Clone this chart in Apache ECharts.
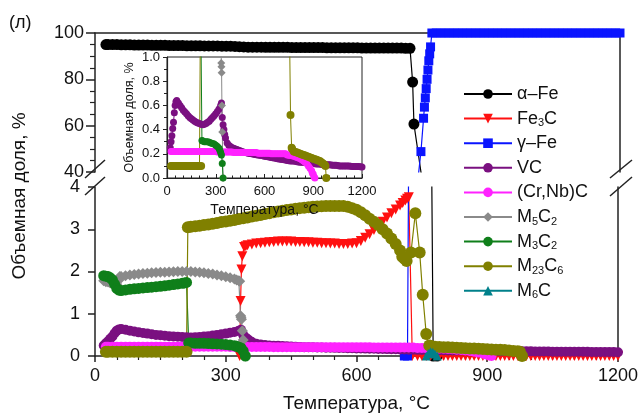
<!DOCTYPE html>
<html><head><meta charset="utf-8">
<script src="https://cdn.jsdelivr.net/npm/echarts@6.0.0/dist/echarts.min.js"></script>
<style>html,body{margin:0;padding:0;background:#fff}#c{width:641px;height:414px}</style>
</head><body><div id="c"></div><script>
// ---------- data (temperature °C, volume fraction %) ----------
const alphaFe = [[25,95.0],[30,95.0],[40,95.0],[50,95.0],[60,94.9],[70,94.9],[80,94.9],[90,94.8],[100,94.8],[110,94.8],[120,94.8],[130,94.7],[140,94.7],[150,94.7],[160,94.7],[170,94.6],[180,94.6],[190,94.6],[200,94.6],[210,94.5],[220,94.5],[230,94.5],[240,94.5],[250,94.4],[260,94.4],[270,94.4],[280,94.4],[290,94.3],[300,94.3],[310,94.3],[320,94.2],[330,94.1],[340,94.0],[350,93.9],[360,93.9],[370,93.9],[380,93.9],[390,93.8],[400,93.8],[410,93.8],[420,93.8],[430,93.8],[440,93.8],[450,93.7],[460,93.7],[470,93.7],[480,93.7],[490,93.7],[500,93.7],[510,93.7],[520,93.7],[530,93.6],[540,93.6],[550,93.6],[560,93.6],[570,93.6],[580,93.6],[590,93.6],[600,93.6],[610,93.5],[620,93.5],[630,93.5],[640,93.5],[650,93.5],[660,93.5],[670,93.5],[680,93.5],[690,93.5],[700,93.5],[710,93.4],[720,93.4],[726,78.8],[729,60.7],[776,0],[785,0]];
const fe3C = [[332,0],[334,1.3],[336,2.05],[338,2.36],[342,2.58],[346,2.6],[350,2.62],[360,2.64],[370,2.66],[380,2.67],[390,2.68],[400,2.69],[410,2.7],[420,2.71],[430,2.71],[440,2.71],[450,2.71],[460,2.7],[470,2.7],[480,2.69],[490,2.69],[500,2.68],[510,2.68],[520,2.67],[530,2.67],[540,2.66],[550,2.66],[560,2.65],[570,2.65],[580,2.65],[590,2.66],[600,2.67],[610,2.72],[620,2.8],[630,2.88],[640,2.98],[650,3.08],[660,3.18],[670,3.28],[680,3.38],[690,3.47],[700,3.56],[706,3.62],[712,3.68],[716,3.72],[720,3.76],[728,0],[740,0],[750,0],[760,0],[770,0],[780,0],[790,0],[800,0],[810,0],[820,0],[830,0],[840,0],[850,0],[860,0],[870,0],[880,0],[890,0],[900,0],[910,0],[920,0],[930,0],[940,0],[950,0],[960,0],[970,0],[980,0],[990,0],[1000,0],[1010,0],[1020,0],[1030,0],[1040,0],[1050,0],[1060,0],[1070,0],[1080,0],[1090,0],[1100,0],[1110,0],[1120,0],[1130,0],[1140,0],[1150,0],[1160,0],[1170,0],[1180,0],[1190,0],[1200,0]];
const gammaFe = [[710,0],[717,0],[745,48.8],[751,63.2],[753,68],[755,72],[757,76],[759,80],[761,84],[763,88],[765,91],[767,94],[770,100],[780,100],[790,100],[800,100],[810,100],[820,100],[830,100],[840,100],[850,100],[860,100],[870,100],[880,100],[890,100],[900,100],[910,100],[920,100],[930,100],[940,100],[950,100],[960,100],[970,100],[980,100],[990,100],[1000,100],[1010,100],[1020,100],[1030,100],[1040,100],[1050,100],[1060,100],[1070,100],[1080,100],[1090,100],[1100,100],[1110,100],[1120,100],[1130,100],[1140,100],[1150,100],[1160,100],[1170,100],[1180,100],[1190,100],[1200,100]];
const vc = [[20,0.25],[25,0.3],[30,0.35],[35,0.41],[40,0.46],[45,0.54],[50,0.6],[55,0.63],[60,0.64],[70,0.62],[80,0.6],[90,0.58],[100,0.56],[110,0.545],[120,0.53],[130,0.515],[140,0.5],[150,0.49],[160,0.48],[170,0.47],[180,0.46],[190,0.455],[200,0.45],[210,0.445],[220,0.44],[230,0.445],[240,0.45],[250,0.46],[260,0.47],[270,0.485],[280,0.5],[290,0.515],[300,0.53],[310,0.55],[320,0.57],[330,0.6],[335,0.62],[340,0.5],[345,0.44],[350,0.4],[355,0.36],[360,0.33],[370,0.29],[380,0.27],[390,0.26],[400,0.25],[410,0.245],[420,0.24],[430,0.235],[440,0.23],[450,0.225],[460,0.22],[470,0.215],[480,0.21],[490,0.208],[500,0.205],[510,0.203],[520,0.2],[530,0.198],[540,0.195],[550,0.193],[560,0.19],[570,0.188],[580,0.185],[590,0.183],[600,0.18],[610,0.178],[620,0.175],[630,0.173],[640,0.17],[650,0.168],[660,0.165],[670,0.163],[680,0.16],[690,0.158],[700,0.155],[710,0.153],[720,0.15],[730,0.148],[740,0.145],[750,0.143],[760,0.14],[770,0.14],[780,0.14],[790,0.138],[800,0.135],[810,0.133],[820,0.13],[830,0.13],[840,0.13],[850,0.128],[860,0.125],[870,0.123],[880,0.12],[890,0.12],[900,0.12],[910,0.118],[920,0.115],[930,0.115],[940,0.115],[950,0.113],[960,0.11],[970,0.11],[980,0.11],[990,0.11],[1000,0.11],[1010,0.108],[1020,0.105],[1030,0.105],[1040,0.105],[1050,0.103],[1060,0.1],[1070,0.1],[1080,0.1],[1090,0.1],[1100,0.1],[1110,0.1],[1120,0.1],[1130,0.098],[1140,0.095],[1150,0.095],[1160,0.095],[1170,0.095],[1180,0.095],[1190,0.093],[1200,0.09]];
const crNbC = [[25,0.22],[30,0.22],[40,0.22],[50,0.22],[60,0.22],[70,0.22],[80,0.22],[90,0.22],[100,0.22],[110,0.22],[120,0.22],[130,0.22],[140,0.22],[150,0.22],[160,0.22],[170,0.22],[180,0.22],[190,0.22],[200,0.22],[210,0.22],[220,0.22],[230,0.22],[240,0.22],[250,0.22],[260,0.22],[270,0.22],[280,0.22],[290,0.22],[300,0.22],[310,0.215],[320,0.215],[330,0.215],[340,0.215],[350,0.215],[360,0.215],[370,0.215],[380,0.215],[390,0.215],[400,0.215],[410,0.21],[420,0.21],[430,0.21],[440,0.21],[450,0.21],[460,0.21],[470,0.21],[480,0.21],[490,0.21],[500,0.21],[510,0.21],[520,0.21],[530,0.21],[540,0.21],[550,0.21],[560,0.205],[570,0.205],[580,0.205],[590,0.205],[600,0.205],[610,0.205],[620,0.205],[630,0.205],[640,0.2],[650,0.2],[660,0.2],[670,0.2],[680,0.2],[690,0.2],[700,0.2],[710,0.2],[720,0.2],[730,0.2],[740,0.19],[750,0.188],[760,0.185],[770,0.183],[780,0.18],[790,0.175],[800,0.17],[810,0.165],[820,0.16],[830,0.15],[840,0.14],[850,0.13],[860,0.12],[870,0.1],[880,0.08],[890,0.06],[895,0.04],[900,0.03],[905,0.01],[910,0]];
const m5C2 = [[20,1.78],[25,1.76],[30,1.75],[35,1.73],[40,1.72],[45,1.71],[50,1.7],[55,1.8],[57,1.88],[60,1.88],[70,1.9],[80,1.915],[90,1.93],[100,1.94],[110,1.95],[120,1.96],[130,1.97],[140,1.975],[150,1.98],[160,1.985],[170,1.99],[180,1.995],[190,2.0],[200,2.0],[210,2.0],[220,2.0],[230,1.99],[240,1.98],[250,1.97],[260,1.955],[270,1.94],[280,1.92],[290,1.9],[300,1.875],[310,1.85],[320,1.82],[325,1.8],[330,1.78],[332,1.77],[334,0.95],[335,0.92],[336,0.87],[338,0.6],[340,0.38],[345,0]];
const m3C2 = [[20,1.9],[25,1.89],[30,1.88],[35,1.85],[40,1.8],[45,1.7],[50,1.6],[55,1.56],[60,1.55],[70,1.565],[80,1.58],[90,1.59],[100,1.6],[110,1.61],[120,1.62],[130,1.63],[140,1.64],[150,1.65],[160,1.66],[170,1.675],[180,1.69],[190,1.705],[200,1.72],[205,1.73],[210,1.74],[215,0.31],[220,0.305],[230,0.3],[240,0.3],[250,0.3],[260,0.295],[270,0.29],[280,0.285],[290,0.28],[300,0.27],[310,0.26],[320,0.245],[325,0.23],[330,0.21],[335,0.19],[340,0.12],[345,0]];
const m23C6 = [[25,0.1],[30,0.1],[40,0.1],[50,0.1],[60,0.1],[70,0.1],[80,0.1],[90,0.1],[100,0.1],[110,0.1],[120,0.1],[130,0.1],[140,0.1],[150,0.1],[160,0.1],[170,0.1],[180,0.1],[190,0.1],[200,0.1],[210,0.1],[213,3.05],[220,3.06],[230,3.07],[240,3.085],[250,3.1],[260,3.115],[270,3.13],[280,3.15],[290,3.17],[300,3.185],[310,3.2],[320,3.22],[330,3.24],[340,3.26],[350,3.28],[360,3.3],[370,3.32],[380,3.34],[390,3.36],[400,3.38],[410,3.4],[420,3.42],[430,3.44],[440,3.455],[450,3.47],[460,3.485],[470,3.5],[480,3.51],[490,3.52],[500,3.53],[510,3.54],[520,3.545],[530,3.55],[540,3.55],[550,3.55],[560,3.55],[570,3.55],[580,3.53],[590,3.5],[600,3.46],[610,3.4],[620,3.33],[630,3.25],[640,3.18],[650,3.1],[660,3.0],[670,2.9],[680,2.78],[690,2.65],[700,2.5],[705,2.35],[710,2.3],[715,2.25],[725,2.45],[735,3.38],[745,2.45],[752,1.45],[760,0.52],[767,0.25],[770,0.24],[780,0.22],[790,0.215],[800,0.21],[810,0.205],[820,0.2],[830,0.195],[840,0.19],[850,0.185],[860,0.18],[870,0.175],[880,0.17],[890,0.165],[900,0.16],[910,0.155],[920,0.15],[930,0.145],[940,0.14],[950,0.13],[960,0.12],[970,0.11],[975,0.1],[980,0]];
const m6C = [[760,0],[765,0.06],[770,0.1],[775,0.09],[780,0.05],[785,0]];

const seriesNames = ['α–Fe','Fe3C','γ–Fe','VC','(Cr,Nb)C','M5C2','M3C2','M23C6','M6C'];
const seriesData = [alphaFe, fe3C, gammaFe, vc, crNbC, m5C2, m3C2, m23C6, m6C];
const legendLabels = ['α–Fe','Fe{s|3}C','γ–Fe','VC','(Cr,Nb)C','M{s|5}C{s|2}','M{s|3}C{s|2}','M{s|23}C{s|6}','M{s|6}C'];
const upperTicks = [40, 60, 80, 100];
const lowerTicks = [0, 1, 2, 3, 4];
const xTicks = [0, 300, 600, 900, 1200];
const insetYTicks = [0, 0.2, 0.4, 0.6, 0.8, 1.0];

// ---------- styles ----------
const colors = ['#000000','#ff1010','#0a14ff','#7a1080','#ff22ff','#8a8a8a','#0f7f1a','#808000','#00808a'];
const symbols = ['circle','triangle','rect','circle','circle','diamond','circle','circle','triangle'];
const rotations = [0,180,0,0,0,0,0,0,0];
const sizes = [11,10,9,10,10,11,11,12,9];
const insetSizes = [0,0,0,7,7,8,7,8,0];
const insetMembers = [3,4,5,6,7];
const FONT = '"Liberation Sans", Arial, sans-serif';
const AX = {color:'#222', width:1.5};

const series = [];
seriesNames.forEach((n,i)=>{
  series.push({type:'line', name:n, data:seriesData[i], xAxisIndex:1, yAxisIndex:2,
    symbol:symbols[i], symbolSize:sizes[i], symbolRotate:rotations[i], showAllSymbol:true,
    itemStyle:{color:colors[i]}, lineStyle:{color:colors[i], width:1.2}, clip:true, silent:true});
});
[0,2].forEach(i=>{
  series.push({type:'line', name:seriesNames[i], data:seriesData[i], xAxisIndex:0, yAxisIndex:0,
    symbol:symbols[i], symbolSize:sizes[i], showAllSymbol:true,
    itemStyle:{color:colors[i]}, lineStyle:{color:colors[i], width:1.2}, clip:true, silent:true});
});
insetMembers.forEach(i=>{
  series.push({type:'line', name:seriesNames[i], data:seriesData[i], xAxisIndex:2, yAxisIndex:4,
    symbol:symbols[i], symbolSize:insetSizes[i], showAllSymbol:true, z:5,
    itemStyle:{color:colors[i]}, lineStyle:{color:colors[i], width:1}, clip:true, silent:true});
});

const hidden = {show:false};
const plain = (v)=>String(v);
const chart = echarts.init(document.getElementById('c'), null, {renderer:'canvas'});
chart.setOption({
  animation:false,
  backgroundColor:'#fff',
  textStyle:{fontFamily:FONT, color:'#111'},
  title:{text:'(л)', left:4, top:9, textStyle:{fontSize:18, fontWeight:'normal', color:'#111', fontFamily:FONT}},
  legend:{orient:'vertical', left:458, top:79, itemWidth:48, itemHeight:12, itemGap:4.6,
    data:seriesNames, selectedMode:false,
    formatter:(name)=>legendLabels[seriesNames.indexOf(name)],
    textStyle:{fontSize:18, color:'#111', fontFamily:FONT, lineHeight:20,
      rich:{s:{fontSize:11, fontFamily:FONT, color:'#111', verticalAlign:'bottom', lineHeight:11, padding:[9,0,0,0]}}}},
  grid:[
    {left:95, right:21, top:33, height:139},
    {left:95, right:21, top:187, height:170},
    {left:167, width:195, top:57, height:121, show:true, borderColor:'#222', borderWidth:1, backgroundColor:'rgba(0,0,0,0)'}
  ],
  xAxis:[
    {gridIndex:0, type:'value', min:0, max:1200, position:'top', axisLine:{show:true, onZero:false, lineStyle:AX}, axisTick:hidden, axisLabel:hidden, splitLine:hidden},
    {gridIndex:1, type:'value', min:xTicks[0], max:xTicks[xTicks.length-1], interval:300, position:'bottom',
      axisLine:{show:true, onZero:false, lineStyle:AX}, axisTick:{show:true, length:6, lineStyle:AX},
      minorTick:{show:true, splitNumber:6, length:4, lineStyle:{color:'#222', width:1.2}},
      axisLabel:{fontSize:18, margin:11, color:'#111', fontFamily:FONT, formatter:plain}, splitLine:hidden,
      name:'Температура, °C', nameLocation:'middle', nameGap:38, nameTextStyle:{fontSize:19, color:'#111', fontFamily:FONT}},
    {gridIndex:2, type:'value', min:0, max:1200, interval:300, z:4,
      axisLine:{show:true, onZero:false, lineStyle:{color:'#222', width:1.2}}, axisTick:{show:true, inside:true, length:4, lineStyle:{color:'#222'}},
      minorTick:{show:true, splitNumber:6, length:2.5, lineStyle:{color:'#222'}},
      axisLabel:{fontSize:13, margin:7, color:'#111', fontFamily:FONT, formatter:plain}, splitLine:hidden,
      name:'Температура, °C', nameLocation:'middle', nameGap:25, nameTextStyle:{fontSize:14, color:'#111', fontFamily:FONT}}
  ],
  yAxis:[
    {gridIndex:0, type:'value', min:upperTicks[0], max:upperTicks[upperTicks.length-1], interval:20,
      axisLine:{show:true, onZero:false, lineStyle:AX}, axisTick:{show:true, length:9, lineStyle:AX},
      minorTick:{show:true, splitNumber:4, length:5, lineStyle:{color:'#222', width:1.2}},
      axisLabel:{fontSize:18, margin:11, color:'#111', fontFamily:FONT}, splitLine:hidden},
    {gridIndex:0, type:'value', min:40, max:100, position:'right', axisLine:{show:true, onZero:false, lineStyle:AX}, axisTick:hidden, axisLabel:hidden, splitLine:hidden},
    {gridIndex:1, type:'value', min:lowerTicks[0], max:lowerTicks[lowerTicks.length-1], interval:1,
      axisLine:{show:true, onZero:false, lineStyle:AX}, axisTick:{show:true, length:7, lineStyle:AX},
      axisLabel:{fontSize:18, margin:15, color:'#111', fontFamily:FONT}, splitLine:hidden},
    {gridIndex:1, type:'value', min:0, max:4, position:'right', axisLine:{show:true, onZero:false, lineStyle:AX}, axisTick:hidden, axisLabel:hidden, splitLine:hidden},
    {gridIndex:2, type:'value', min:insetYTicks[0], max:insetYTicks[insetYTicks.length-1], interval:0.2, z:4,
      axisLine:{show:true, onZero:false, lineStyle:{color:'#222', width:1.2}}, axisTick:{show:true, length:4, lineStyle:{color:'#222'}},
      minorTick:{show:true, splitNumber:2, length:3, lineStyle:{color:'#222'}},
      axisLabel:{fontSize:13, margin:7, color:'#111', fontFamily:FONT, formatter:(v)=>v.toFixed(1)}, splitLine:hidden,
      name:'Объемная доля, %', nameLocation:'middle', nameGap:31, nameTextStyle:{fontSize:12.5, color:'#111', fontFamily:FONT}}
  ],
  graphic:[
    {type:'text', x:20, y:196, rotation:Math.PI/2, style:{text:'Объемная доля, %', fontSize:19, fontFamily:FONT, fill:'#111', align:'center', verticalAlign:'middle'}},
    {type:'line', shape:{x1:85, y1:178, x2:105, y2:160}, style:{stroke:'#222', lineWidth:1.5}},
    {type:'line', shape:{x1:85, y1:195, x2:105, y2:177}, style:{stroke:'#222', lineWidth:1.5}},
    {type:'line', shape:{x1:610, y1:178, x2:632, y2:160}, style:{stroke:'#222', lineWidth:1.5}},
    {type:'line', shape:{x1:610, y1:196, x2:632, y2:177}, style:{stroke:'#222', lineWidth:1.5}}
  ],
  series: series
});
</script></body></html>
